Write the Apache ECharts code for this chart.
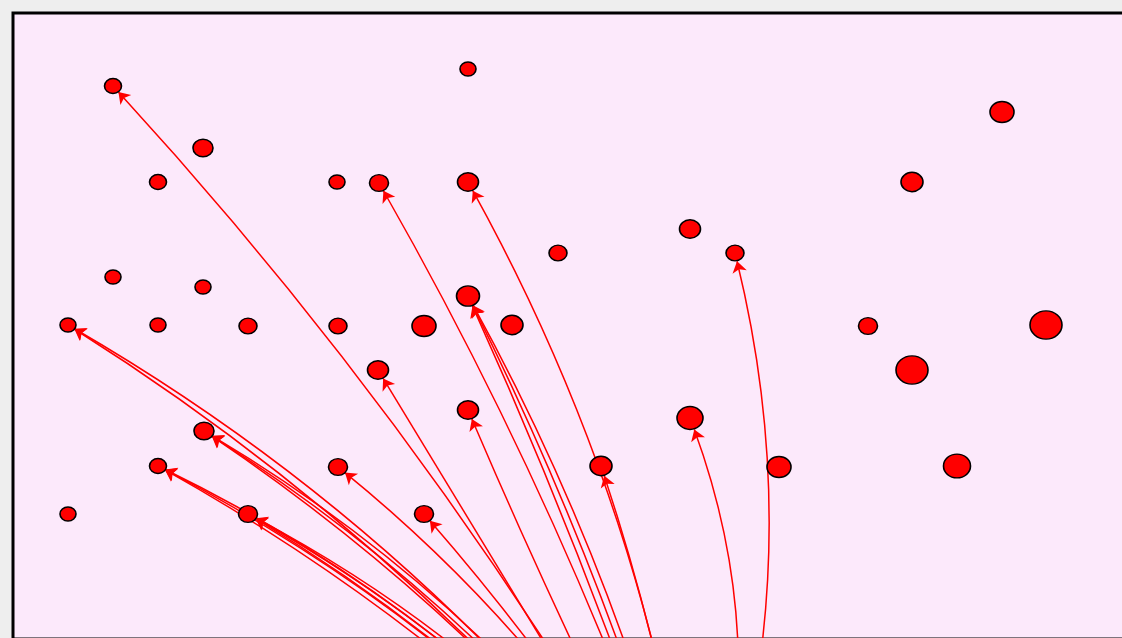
<!DOCTYPE html>
<html>
<head>
<meta charset="utf-8">
<script src="https://cdn.jsdelivr.net/npm/echarts@6/dist/echarts.min.js"></script>
<style>
html,body{margin:0;padding:0;background:#eeeeee;}
#chart{width:1122px;height:638px;}
</style>
</head>
<body>
<div id="chart"></div>
<script>
// Node data: id, x value, y value, weight (drawn size)
var nodeIds = ['n1','n2','n3','n4','n5','n6','n7','n8','n9','n10','n11','n12','n13','n14','n15','n16','n17','n18','n19','n20','n21','n22','n23','n24','n25','n26','n27','n28','n29','n30','n31','n32','n33','n34','n35','n36','src'];
var nodeX = [468,113,1002,203,158,337,379,468,912,690,558,735,113,203,468,68,158,248,338,424,512,868,1046,378,912,468,204,690,158,338,601,779,957,68,248,424, 700];
var nodeY = [69,86,112,148,182,182,183,182,182,229,253,253,277,287,296,325,325,326,326,326,325,326,325,370,370,410,431,418,466,467,466,467,466,514,514,514, 900];
var nodeWeight = [16,17,24,20,17,16,19,21,22,21,18,18,16,16,23,16,16,18,18,24,22,19,32,21,32,21,20,26,17,19,22,24,27,16,19,19, 10];

// Edges: all from the source node below the view to these targets
var edgeTarget = ['n16','n16','n27','n27','n27','n29','n29','n29','n35','n35','n35','n2','n24','n26','n30','n36','n7','n8','n15','n15','n15','n31','n28','n12'];
// per-edge bend of the drawn link (style)
var edgeCurveness = [-0.09,-0.11,-0.085,-0.1,-0.115,-0.085,-0.1,-0.115,-0.085,-0.1,-0.115,-0.06,0,0.02,-0.1,-0.05,-0.05,-0.1,-0.03,-0.05,-0.07,-0.05,-0.18,-0.155];

var nodes = nodeIds.map(function(id, i){
  var w = nodeWeight[i];
  return {name: id, value: [nodeX[i], nodeY[i]], symbolSize: [w, w * 0.88]};
});
var links = edgeTarget.map(function(t, i){
  return {source: 'src', target: t, lineStyle: {curveness: edgeCurveness[i]}};
});

var chart = echarts.init(document.getElementById('chart'));
chart.setOption({
  backgroundColor: '#eeeeee',
  animation: false,
  grid: {left: 13, top: 13, width: 1200, height: 626, show: true, outerBoundsMode: 'none', containLabel: false,
         backgroundColor: '#fce9fb', borderColor: '#000000', borderWidth: 3},
  xAxis: {type: 'value', min: 13, max: 1213, show: false, splitLine: {show: false}},
  yAxis: {type: 'value', min: 13, max: 639, inverse: true, show: false, splitLine: {show: false}},
  series: [{
    type: 'graph',
    coordinateSystem: 'cartesian2d',
    layout: 'none',
    symbol: 'circle',
    data: nodes,
    links: links,
    edgeSymbol: ['none', 'arrow'],
    edgeSymbolSize: [4, 11],
    itemStyle: {color: '#ff0000', borderColor: '#000000', borderWidth: 1.5},
    lineStyle: {color: '#ff0000', width: 1.5, opacity: 1},
    label: {show: false},
    emphasis: {disabled: true}
  }]
});
</script>
</body>
</html>
